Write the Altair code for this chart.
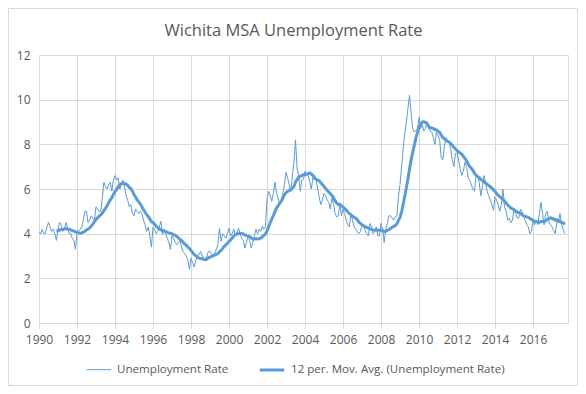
import altair as alt
import pandas as pd

# Monthly unemployment rate (%), Wichita MSA
r1990 = [4.1, 4.0, 4.2, 4.0, 4.0, 4.3, 4.5, 4.3, 4.1, 4.2, 4.0, 3.7]
r1991 = [4.2, 4.5, 4.4, 4.1, 4.2, 4.5, 4.3, 4.0, 4.0, 3.8, 3.7, 3.3]
r1992 = [4.0, 4.1, 4.2, 4.3, 4.6, 5.0, 5.0, 4.5, 4.6, 4.8, 4.7, 4.6]
r1993 = [5.2, 5.1, 5.0, 5.0, 5.6, 6.3, 6.1, 6.0, 6.2, 6.3, 5.9, 6.4]
r1994 = [6.6, 6.4, 6.5, 6.0, 6.2, 6.4, 6.1, 5.7, 5.5, 5.2, 5.3, 4.9]
r1995 = [4.8, 5.1, 5.0, 4.9, 5.0, 4.9, 4.6, 4.4, 4.1, 4.3, 3.9, 3.4]
r1996 = [4.3, 4.2, 4.0, 4.1, 4.3, 4.55, 3.95, 4.2, 4.0, 3.8, 3.6, 3.3]
r1997 = [3.9, 3.8, 3.6, 3.5, 3.6, 3.7, 3.4, 3.2, 3.1, 3.0, 2.8, 2.4]
r1998 = [2.9, 2.7, 2.5, 2.8, 3.0, 3.05, 3.2, 3.0, 2.9, 2.8, 3.0, 3.2]
r1999 = [3.2, 3.1, 3.0, 3.1, 3.3, 3.5, 4.25, 3.65, 4.0, 3.9, 3.8, 4.0]
r2000 = [4.25, 3.9, 4.0, 4.2, 3.9, 4.05, 4.25, 4.0, 3.8, 3.7, 3.35, 3.6]
r2001 = [3.9, 3.7, 3.35, 3.6, 3.9, 4.2, 4.0, 4.2, 4.1, 4.33, 4.2, 4.3]
r2002 = [5.55, 5.9, 5.7, 5.45, 5.8, 6.3, 5.8, 5.6, 5.3, 5.5, 5.8, 6.2]
r2003 = [6.75, 6.5, 6.2, 5.9, 6.6, 7.2, 8.2, 6.9, 6.6, 5.9, 6.4, 6.45]
r2004 = [6.8, 6.7, 6.6, 6.3, 6.0, 6.5, 6.6, 6.45, 6.0, 5.6, 5.3, 5.5]
r2005 = [5.8, 5.7, 5.5, 5.4, 5.1, 5.6, 5.35, 4.9, 4.75, 4.8, 5.35, 4.8]
r2006 = [5.1, 4.9, 4.6, 4.4, 4.3, 4.9, 4.6, 4.3, 4.2, 4.1, 4.0, 4.1]
r2007 = [4.46, 4.3, 4.16, 4.0, 3.9, 4.46, 4.3, 4.0, 4.1, 4.3, 3.9, 3.9]
r2008 = [4.46, 4.2, 3.6, 4.2, 4.45, 4.8, 4.8, 4.7, 4.6, 4.76, 4.8, 5.67]
r2009 = [6.2, 7.0, 7.8, 8.5, 9.0, 9.6, 10.2, 9.4, 8.7, 8.55, 8.6, 8.7]
r2010 = [9.2, 8.7, 8.9, 8.6, 8.7, 9.0, 8.7, 8.6, 8.55, 8.3, 8.0, 8.55]
r2011 = [8.4, 8.2, 7.4, 7.3, 7.9, 8.3, 8.2, 8.1, 7.8, 7.3, 7.0, 7.6]
r2012 = [7.6, 7.3, 6.9, 6.6, 6.8, 7.2, 7.0, 6.5, 6.4, 6.2, 6.0, 5.9]
r2013 = [6.6, 6.6, 6.3, 5.7, 6.1, 6.6, 6.3, 5.9, 5.7, 5.5, 5.3, 5.05]
r2014 = [5.65, 5.5, 5.3, 5.0, 5.3, 6.0, 5.2, 5.0, 4.6, 4.7, 4.5, 4.6]
r2015 = [5.1, 4.9, 4.7, 4.7, 5.1, 5.0, 4.8, 4.6, 4.4, 4.3, 4.0, 4.1]
r2016 = [4.6, 4.4, 4.6, 4.4, 4.9, 5.4, 4.9, 4.4, 4.9, 5.0, 4.55, 4.4]
r2017 = [4.3, 4.15, 4.0, 4.5, 4.5, 4.9, 4.4, 4.2, 4.0]

years = list(range(1990, 2018))
yearly = [r1990, r1991, r1992, r1993, r1994, r1995, r1996, r1997, r1998, r1999,
          r2000, r2001, r2002, r2003, r2004, r2005, r2006, r2007, r2008, r2009,
          r2010, r2011, r2012, r2013, r2014, r2015, r2016, r2017]

x_ticks = list(range(1990, 2018, 2))
y_ticks = [0, 2, 4, 6, 8, 10, 12]

rows = []
for yr, vals in zip(years, yearly):
    for m, v in enumerate(vals):
        rows.append({"t": yr + m / 12.0, "rate": v})
df = pd.DataFrame(rows)

RAW = "Unemployment Rate"
MA = "12 per. Mov. Avg. (Unemployment Rate)"
BLUE = "#5B9BD5"
GREY = "#595959"
GRID = "#D9D9D9"
FONT = "Open Sans"

color_scale = alt.Scale(domain=[RAW, MA], range=[BLUE, BLUE])
width_scale = alt.Scale(domain=[RAW, MA], range=[1, 3])

legend = alt.Legend(
    title=None, orient="none", legendX=47, legendY=301, direction="horizontal",
    symbolType="stroke", symbolSize=600, labelFont=FONT, labelFontSize=11.6,
    labelColor=GREY, labelOffset=5, columnPadding=24, labelLimit=400,
)

x_enc = alt.X("t:Q", scale=alt.Scale(domain=[1990, 2017.84], nice=False, zero=False),
              axis=alt.Axis(values=x_ticks, format="d", title=None, labelFont=FONT,
                            labelFontSize=12, labelColor=GREY, tickColor=GRID, tickSize=5,
                            domainColor=GRID, gridColor=GRID, labelPadding=6,
                            labelFlush=False))
y_axis = alt.Axis(values=y_ticks, title=None, labelFont=FONT, labelFontSize=12,
                  labelColor=GREY, ticks=False, domain=False, gridColor=GRID,
                  labelPadding=9)
y_scale = alt.Scale(domain=[0, 12], nice=False)

base = alt.Chart(df)

raw = base.transform_calculate(series=f"'{RAW}'").mark_line(clip=True).encode(
    x=x_enc,
    y=alt.Y("rate:Q", scale=y_scale, axis=y_axis),
    color=alt.Color("series:N", scale=color_scale, legend=legend),
    strokeWidth=alt.StrokeWidth("series:N", scale=width_scale, legend=legend),
)

ma = base.transform_window(
    ma="mean(rate)", cnt="count()", frame=[-11, 0], sort=[alt.SortField("t")]
).transform_filter("datum.cnt == 12").transform_calculate(
    series=f"'{MA}'"
).mark_line(clip=True).encode(
    x=alt.X("t:Q"),
    y=alt.Y("ma:Q"),
    color=alt.Color("series:N", scale=color_scale, legend=legend),
    strokeWidth=alt.StrokeWidth("series:N", scale=width_scale, legend=legend),
)

border = alt.Chart(pd.DataFrame({"a": [0]})).mark_rect(
    fill=None, stroke=GRID, strokeWidth=1, clip=False
).encode(x=alt.value(-30.5), x2=alt.value(538.5), y=alt.value(-46.5), y2=alt.value(330.5))

chart = alt.layer(raw, ma, border).properties(
    width=529, height=268,
    padding={"left": 31, "top": 47, "right": 10, "bottom": 63},
    autosize=alt.AutoSizeParams(type="none"),
    title=alt.TitleParams("Wichita MSA Unemployment Rate", font=FONT, fontSize=16.5,
                          fontWeight="normal", color=GREY, anchor="middle", dx=-10,
                          offset=-31),
).configure_view(stroke=None).configure(background="white")

chart.save("out.html", embed_options={"renderer": "svg", "actions": False})
